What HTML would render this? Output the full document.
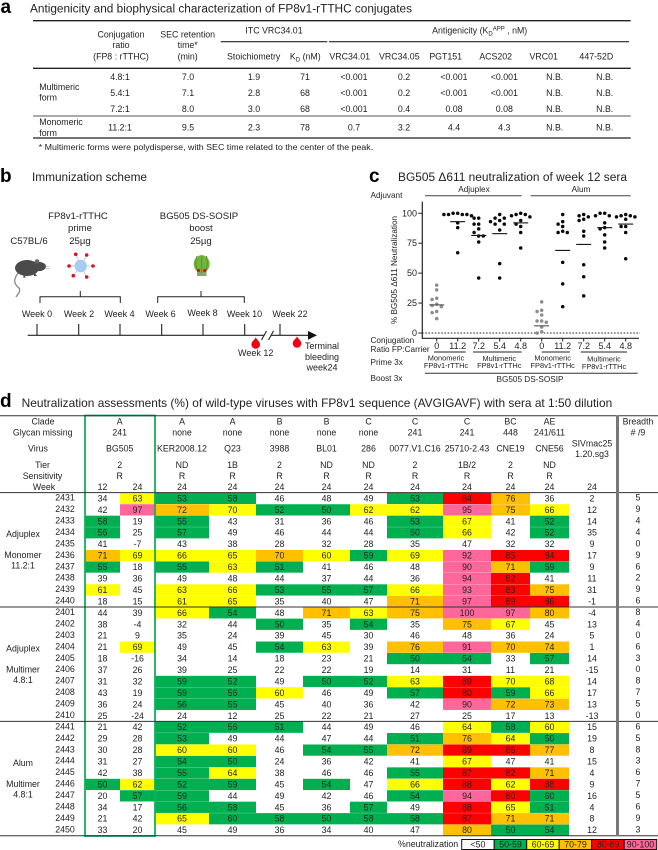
<!DOCTYPE html>
<html lang="en">
<head>
<meta charset="utf-8">
<title>FP8v1-rTTHC conjugates figure</title>
<style>
html,body{margin:0;padding:0;background:#fff;}
svg{display:block;}
text{font-family:"Liberation Sans",sans-serif;fill:#222;}
.h{font-size:8.8px;}
.m{text-anchor:middle;}
.letter{font-size:19px;font-weight:bold;fill:#000;}
.ttl{font-size:11.5px;}
.b{font-size:9.6px;text-anchor:middle;}
.wk{font-size:9px;text-anchor:middle;}
.s{font-size:7.4px;text-anchor:middle;}
.c{font-size:8.2px;}
</style>
</head>
<body>
<svg id="fig" xmlns="http://www.w3.org/2000/svg" width="658" height="850" viewBox="0 0 658 850">
<rect width="658" height="850" fill="#fff"/>

<!-- Panel a -->
<g>
<text class="letter" x="0.5" y="13">a</text>
<text class="ttl" x="30" y="12.5" textLength="382" lengthAdjust="spacingAndGlyphs">Antigenicity and biophysical characterization of FP8v1-rTTHC conjugates</text>
<line x1="33" x2="630.7" y1="20.7" y2="20.7" stroke="#222" stroke-width="1.3"/>
<line x1="220.7" x2="327.3" y1="41.7" y2="41.7" stroke="#222" stroke-width="1.2"/>
<line x1="329" x2="629" y1="41.7" y2="41.7" stroke="#222" stroke-width="1.2"/>
<line x1="33" x2="630.7" y1="68.3" y2="68.3" stroke="#222" stroke-width="1.3"/>
<line x1="33" x2="630.7" y1="116" y2="116" stroke="#777" stroke-width="1.2"/>
<line x1="33" x2="630.7" y1="138" y2="138" stroke="#222" stroke-width="1.3"/>
<g class="h">
<text class="m" x="121" y="37.3">Conjugation</text>
<text class="m" x="121" y="48">ratio</text>
<text class="m" x="121" y="59.3">(FP8 : rTTHC)</text>
<text class="m" x="187.7" y="37.3">SEC retention</text>
<text class="m" x="187.7" y="48">time*</text>
<text class="m" x="187.7" y="59.3">(min)</text>
<text class="m" x="274" y="33.3">ITC VRC34.01</text>
<text class="m" x="479.7" y="33.3">Antigenicity (K<tspan dy="2" font-size="6">D</tspan><tspan dy="-5" font-size="6">APP</tspan><tspan dy="3"> , nM)</tspan></text>
<text class="m" x="253.7" y="59.3">Stoichiometry</text>
<text class="m" x="305.3" y="59.3">K<tspan dy="2" font-size="6">D</tspan><tspan dy="-2"> (nM)</tspan></text>
<text class="m" x="349.7" y="59.3">VRC34.01</text>
<text class="m" x="399.3" y="59.3">VRC34.05</text>
<text class="m" x="445.7" y="59.3">PGT151</text>
<text class="m" x="495.7" y="59.3">ACS202</text>
<text class="m" x="543.7" y="59.3">VRC01</text>
<text class="m" x="596.3" y="59.3">447-52D</text>
<text x="39.3" y="90">Multimeric</text>
<text x="39.3" y="100.7">form</text>
<text x="39.3" y="125">Monomeric</text>
<text x="39.3" y="136">form</text>
</g>
<g class="h" text-anchor="middle">
<text x="120" y="79.8">4.8:1</text><text x="188" y="79.8">7.0</text><text x="254" y="79.8">1.9</text><text x="305" y="79.8">71</text><text x="354" y="79.8">&lt;0.001</text><text x="404" y="79.8">0.2</text><text x="454" y="79.8">&lt;0.001</text><text x="504.3" y="79.8">&lt;0.001</text><text x="554.7" y="79.8">N.B.</text><text x="604.7" y="79.8">N.B.</text>
</g>
<g class="h" text-anchor="middle">
<text x="120" y="95.8">5.4:1</text><text x="188" y="95.8">7.1</text><text x="254" y="95.8">2.8</text><text x="305" y="95.8">68</text><text x="354" y="95.8">&lt;0.001</text><text x="404" y="95.8">0.2</text><text x="454" y="95.8">&lt;0.001</text><text x="504.3" y="95.8">&lt;0.001</text><text x="554.7" y="95.8">N.B.</text><text x="604.7" y="95.8">N.B.</text>
</g>
<g class="h" text-anchor="middle">
<text x="120" y="111.8">7.2:1</text><text x="188" y="111.8">8.0</text><text x="254" y="111.8">3.0</text><text x="305" y="111.8">68</text><text x="354" y="111.8">&lt;0.001</text><text x="404" y="111.8">0.4</text><text x="454" y="111.8">0.08</text><text x="504.3" y="111.8">0.08</text><text x="554.7" y="111.8">N.B.</text><text x="604.7" y="111.8">N.B.</text>
</g>
<g class="h" text-anchor="middle">
<text x="120" y="130.7">11.2:1</text><text x="188" y="130.7">9.5</text><text x="254" y="130.7">2.3</text><text x="305" y="130.7">78</text><text x="354" y="130.7">0.7</text><text x="404" y="130.7">3.2</text><text x="454" y="130.7">4.4</text><text x="504.3" y="130.7">4.3</text><text x="554.7" y="130.7">N.B.</text><text x="604.7" y="130.7">N.B.</text>
</g>
<text x="38.7" y="150" font-size="8" textLength="334.5" lengthAdjust="spacingAndGlyphs">* Multimeric forms were polydisperse, with SEC time related to the center of the peak.</text>
</g>

<!-- Panel b -->
<g>
<text class="letter" x="0" y="182">b</text>
<text class="ttl" x="32" y="181" textLength="115" lengthAdjust="spacingAndGlyphs">Immunization scheme</text>
<text class="b" x="78" y="219">FP8v1-rTTHC</text>
<text class="b" x="80" y="231">prime</text>
<text class="b" x="80" y="244">25µg</text>
<text class="b" x="199" y="219">BG505 DS-SOSIP</text>
<text class="b" x="201" y="231">boost</text>
<text class="b" x="201" y="244">25µg</text>
<text class="b" x="29" y="244">C57BL/6</text>
<g>
<path d="M18 273 C13 280 14 284 19 288 C21 291 18 294 16 297" fill="none" stroke="#8a8a80" stroke-width="1.3"/>
<ellipse cx="27" cy="268" rx="12" ry="8" fill="#4b4b4b"/>
<ellipse cx="39" cy="266.5" rx="7" ry="4.6" fill="#4b4b4b"/>
<circle cx="37" cy="261.5" r="2.3" fill="#666"/>
<path d="M24 275 l-1 2.5 h3 z M34 272 l0 4 h3 z" fill="#444"/>
<path d="M45 267 l5 -1 M45 268 l5 1" stroke="#aaa" stroke-width=".5"/>
</g>
<g>
<g stroke="#b8c4d4" stroke-width=".8">
<line x1="80.7" y1="266" x2="75.7" y2="254.3"/><line x1="80.7" y1="266" x2="86.7" y2="255"/><line x1="80.7" y1="266" x2="69" y2="266"/><line x1="80.7" y1="266" x2="93" y2="266"/><line x1="80.7" y1="266" x2="73.3" y2="275.7"/><line x1="80.7" y1="266" x2="86.7" y2="277"/>
</g>
<circle cx="80.7" cy="266" r="6.2" fill="#a6cdf0"/>
<g fill="#d8131f">
<circle cx="75.7" cy="254.3" r="1.8"/><circle cx="86.7" cy="255" r="1.8"/><circle cx="69" cy="266" r="1.8"/><circle cx="93" cy="266" r="1.8"/><circle cx="73.3" cy="275.7" r="1.8"/><circle cx="86.7" cy="277" r="1.8"/>
</g>
</g>
<g>
<rect x="197" y="271" width="9.5" height="5" fill="#8aa27a"/>
<ellipse cx="201.7" cy="264" rx="8" ry="8.8" fill="#74b53d"/>
<g stroke="#4f8e2a" stroke-width=".9" fill="none">
<path d="M197 256 C195 262 196 268 198 272"/><path d="M201.7 255 V273"/><path d="M206.4 256 C208 262 207 268 205.4 272"/>
</g>
<circle cx="198.5" cy="270.5" r="1.6" fill="#e01010"/><circle cx="204.8" cy="270.5" r="1.6" fill="#e01010"/>
</g>
<g fill="none" stroke="#222" stroke-width="1">
<path d="M40 303 V296.7 H120.3 V303 M80.3 296.7 V291"/>
</g>
<g fill="none" stroke="#222" stroke-width="1">
<path d="M157.7 303 V296.7 H244.3 V303 M201 296.7 V291"/>
</g>
<text class="wk" x="37" y="317">Week 0</text>
<text class="wk" x="79" y="317">Week 2</text>
<text class="wk" x="119.5" y="317">Week 4</text>
<text class="wk" x="160.5" y="317">Week 6</text>
<text class="wk" x="202.5" y="316">Week 8</text>
<text class="wk" x="244.5" y="317">Week 10</text>
<text class="wk" x="290" y="317">Week 22</text>
<g stroke="#222" stroke-width="1.1">
<line x1="27.7" x2="310" y1="335.3" y2="335.3"/>
<line x1="37" x2="37" y1="324" y2="335.3"/><line x1="78.7" x2="78.7" y1="324" y2="335.3"/><line x1="120" x2="120" y1="324" y2="335.3"/><line x1="161.7" x2="161.7" y1="324" y2="335.3"/><line x1="203" x2="203" y1="324" y2="335.3"/><line x1="244.7" x2="244.7" y1="324" y2="335.3"/><line x1="280" x2="280" y1="324" y2="335.3"/>
<path d="M308 331 L317 335.3 L308 339.7 z" fill="#111" stroke="none"/>
<rect x="264" y="332" width="6.5" height="6" fill="#fff" stroke="none"/>
<line x1="261.5" x2="266.5" y1="340" y2="331"/><line x1="268.5" x2="273.5" y1="340" y2="331"/>
</g>
<path d="M255.7 337.5 C257 340 260 341.5 260 344.5 A4.3 4.3 0 0 1 251.4 344.5 C251.4 341.5 254.4 340 255.7 337.5 z" fill="#f00010"/>
<path d="M297 336.5 C298.3 339 301.3 340.5 301.3 343.5 A4.3 4.3 0 0 1 292.7 343.5 C292.7 340.5 295.7 339 297 336.5 z" fill="#f00010"/>
<text class="wk" x="255.7" y="356">Week 12</text>
<text class="wk" x="322" y="349" font-size="8.4">Terminal</text>
<text class="wk" x="322" y="360">bleeding</text>
<text class="wk" x="322" y="370.5">week24</text>
</g>

<!-- Panel c static labels -->
<g>
<text class="letter" x="369" y="182">c</text>
<text class="ttl" x="398" y="181" textLength="229" lengthAdjust="spacingAndGlyphs">BG505 Δ611 neutralization of week 12 sera</text>
<text class="c" x="370.5" y="198">Adjuvant</text>
<text class="c m" x="474" y="192">Adjuplex</text>
<text class="c m" x="581" y="192">Alum</text>
<line x1="425" x2="521.7" y1="195.7" y2="195.7" stroke="#444" stroke-width="1"/>
<line x1="530.7" x2="630.7" y1="195.7" y2="195.7" stroke="#444" stroke-width="1"/>
<text class="c m" transform="translate(397,270) rotate(-90)">% BG505 Δ611 Neutralization</text>
<text class="c" x="370.5" y="343">Conjugation</text>
<text class="c" x="370.5" y="352">Ratio FP:Carrier</text>
<text class="c" x="370.5" y="365">Prime 3x</text>
<text class="c" x="370.5" y="381">Boost 3x</text>
<line x1="434" x2="465.7" y1="352" y2="352" stroke="#222" stroke-width="1"/>
<line x1="473" x2="521.7" y1="352" y2="352" stroke="#222" stroke-width="1"/>
<line x1="541.7" x2="570" y1="352" y2="352" stroke="#222" stroke-width="1"/>
<line x1="580.7" x2="627" y1="352" y2="352" stroke="#222" stroke-width="1"/>
<text class="s" x="446" y="360.5">Monomeric</text>
<text class="s" x="446" y="368">FP8v1-rTTHc</text>
<text class="s" x="499.3" y="361">Multimeric</text>
<text class="s" x="499.3" y="368">FP8v1-rTTHc</text>
<text class="s" x="552.7" y="360.5">Monomeric</text>
<text class="s" x="552.7" y="368">FP8v1-rTTHc</text>
<text class="s" x="604" y="361.5">Multimeric</text>
<text class="s" x="604" y="369">FP8v1-rTTHc</text>
<line x1="425" x2="637.7" y1="373.3" y2="373.3" stroke="#333" stroke-width="1"/>
<text class="c m" x="530" y="382">BG505 DS-SOSIP</text>
<g id="scatter"></g>
</g>

<!-- Panel d static -->
<g>
<text class="letter" x="0" y="407">d</text>
<text x="21.7" y="407" font-size="11.8" textLength="590.5" lengthAdjust="spacingAndGlyphs">Neutralization assessments (%) of wild-type viruses with FP8v1 sequence (AVGIGAVF) with sera at 1:50 dilution</text>
<g id="heatmap"></g>
<g class="h" text-anchor="middle">
<text x="23" y="537">Adjuplex</text>
<text x="23" y="558">Monomer</text>
<text x="23" y="568.5">11.2:1</text>
<text x="23" y="651.5">Adjuplex</text>
<text x="23" y="672.5">Multimer</text>
<text x="23" y="683">4.8:1</text>
<text x="23" y="766">Alum</text>
<text x="23" y="787">Multimer</text>
<text x="23" y="797.5">4.8:1</text>
</g>
<g>
<text class="h" x="398" y="847">%neutralization</text>
<g stroke="#111" stroke-width="1">
<rect x="461.7" y="839.5" width="32.5" height="10" fill="#fff"/>
<rect x="494.2" y="839.5" width="32.5" height="10" fill="#00b050"/>
<rect x="526.7" y="839.5" width="32.5" height="10" fill="#ffff00"/>
<rect x="559.2" y="839.5" width="32.5" height="10" fill="#ffc000"/>
<rect x="591.7" y="839.5" width="32.5" height="10" fill="#ff0000"/>
<rect x="624.2" y="839.5" width="32.5" height="10" fill="#ff6699"/>
</g>
<g class="h" text-anchor="middle">
<text x="478" y="847.5">&lt;50</text>
<text x="510.5" y="847.5">50-59</text>
<text x="543" y="847.5">60-69</text>
<text x="575.5" y="847.5">70-79</text>
<text x="608" y="847.5">80-89</text>
<text x="640.5" y="847.5">90-100</text>
</g>
</g>
</g>
</svg>
<script>
// ===== Scatter data (panel c) =====
const scatterCategories = ['0', '11.2', '7.2', '5.4', '4.8', '0', '11.2', '7.2', '5.4', '4.8'];
const yTickLabels = [0, 25, 50, 75, 100];
const adjuplexMono0 = [40, 36, 29, 28, 24, 23, 22, 18, 17, 12];
const adjuplexMono112 = [100, 100, 99, 99, 99, 99, 98, 92, 88, 67];
const adjuplexMulti72 = [96, 96, 91, 91, 87, 84, 81, 81, 76, 46];
const adjuplexMulti54 = [99, 96, 96, 94, 93, 91, 91, 86, 58, 46];
const adjuplexMulti48 = [100, 99, 99, 98, 97, 94, 91, 89, 84, 71];
const alumMono0 = [26, 19, 18, 15, 10, 10, 9, 5, 1, 0];
const alumMono112 = [99, 93, 91, 89, 85, 84, 84, 59, 41, 22];
const alumMulti72 = [99, 98, 97, 95, 94, 85, 81, 57, 47, 31];
const alumMulti54 = [100, 100, 98, 98, 92, 88, 87, 82, 76, 71];
const alumMulti48 = [99, 98, 98, 97, 97, 95, 89, 89, 84, 62];
const scatterSeries = [adjuplexMono0, adjuplexMono112, adjuplexMulti72, adjuplexMulti54, adjuplexMulti48, alumMono0, alumMono112, alumMulti72, alumMulti54, alumMulti48];
const scatterMeans = [23.5, 93, 81.5, 83, 92, 6, 69, 74, 88, 91];

// ===== Heatmap data (panel d) =====
const clades = ['A', 'A', 'A', 'B', 'B', 'C', 'C', 'C', 'BC', 'AE'];
const glycans = ['241', 'none', 'none', 'none', 'none', 'none', '241', '241', '448', '241/611'];
const viruses = ['BG505', 'KER2008.12', 'Q23', '3988', 'BL01', '286', '0077.V1.C16', '25710-2.43', 'CNE19', 'CNE56'];
const tiers = ['2', 'ND', '1B', '2', 'ND', 'ND', '2', '1B/2', '2', 'ND'];
const sensitivities = ['R', 'R', 'R', 'R', 'R', 'R', 'R', 'R', 'R', 'R'];
const weeks = ['24', '24', '24', '24', '24', '24', '24', '24', '24'];
const sampleIds = [2431, 2432, 2433, 2434, 2435, 2436, 2437, 2438, 2439, 2440, 2401, 2402, 2403, 2404, 2405, 2406, 2407, 2408, 2409, 2410, 2441, 2442, 2443, 2444, 2445, 2446, 2447, 2448, 2449, 2450];
const neutralization = [
[34,63,53,58,46,48,49,53,84,76,36],
[42,97,72,69.6,52,50,62,62,95,75,66],
[58,19,55,43,31,36,46,53,67,41,52],
[56,25,57,49,46,44,44,50,66,42,52],
[41,-7,43,38,28,32,28,35,47,32,32],
[71,69,66,65,70,60,59,69,92,85,84],
[55,18,55,63,51,41,46,48,90,71,59],
[39,36,49,48,44,37,44,36,94,82,41],
[61,45,63,66,53,55,57,66,93,83,75],
[18,15,61,65,35,40,47,71,97,89,86],
[44,39,66,54,48,71,63,75,100,97,79.7],
[38,-4,32,44,50,35,54,35,75,67,45],
[21,9,35,24,39,45,30,46,48,36,24],
[21,69,49,45,54,63,39,76,91,70,74],
[18,-16,34,14,18,23,21,50,54,33,57],
[37,26,39,25,22,22,19,14,31,11,21],
[31,32,59,52,49,50,52,63,89,69.6,68],
[43,19,59,56,60,46,49,57,80,59,66],
[36,24,56,55,45,40,36,42,90,72,73],
[25,-24,24,12,25,22,21,27,25,17,13],
[21,42,52,56,51,44,49,46,64,58,60],
[29,28,53,49,44,47,44,51,76,64,50],
[30,28,60,60,46,54,55,72,89,86,77],
[31,27,54,50,24,36,42,41,67,47,41],
[42,38,55,64,38,46,46,55,87,82,71],
[50,62,52,59,45,54,47,66,88,62,88],
[20,57,59,44,49,42,46,54,94,80,59.6],
[34,17,56,58,45,36,57,49,88,65,51],
[21,42,65,59.6,58,50,58,58,87,71,71],
[33,20,45,49,36,34,40,47,79.6,50,54]
];
const sivValues = [2,12,14,35,9,17,9,11,31,-1,-4,13,5,1,14,-15,14,17,13,-13,15,19,8,15,4,9,16,4,8,12];
const breadthValues = [5,9,4,4,0,9,6,2,9,6,8,4,0,6,3,0,8,7,5,0,6,5,8,3,6,7,5,6,9,3];

// ===== Layout =====
const NS = 'http://www.w3.org/2000/svg';
const columnEdges = [85, 120, 155, 209, 256, 303, 350, 387, 443, 491, 530, 569];
const ROW_TOP = 492.6, ROW_H = 11.44;
const SIV_X = 592, BREADTH_X = 638;
function make(parent, tag, attrs) {
  const el = document.createElementNS(NS, tag);
  for (const k in attrs) el.setAttribute(k, attrs[k]);
  parent.appendChild(el);
  return el;
}
function label(parent, x, y, s, cls) {
  const el = make(parent, 'text', {x: x, y: y, class: cls});
  el.textContent = s;
  return el;
}

// ----- Scatter axes -----
const scatter = document.getElementById('scatter');
function yScale(v) { return 333 - v * 1.197; }
function xScale(i) { return 436.7 + i * 21; }
function swarm(values) {
  const placed = [];
  const sorted = values.slice().sort((a, b) => b - a);
  for (const v of sorted) {
    const y = yScale(v);
    const candidates = [0, -4.6, 4.6, -9.2, 9.2, -13.8, 13.8];
    let off = 0;
    for (const c of candidates) {
      if (placed.every(p => Math.hypot(p.off - c, p.y - y) >= 4.2)) { off = c; break; }
    }
    placed.push({off: off, y: y, v: v});
  }
  return placed;
}
const yAxis = make(scatter, 'line', {x1: 422.3, x2: 422.3, y1: 201.7, y2: 338.8, stroke: '#222', 'stroke-width': 1.2});


const xAxis = make(scatter, 'line', {x1: 421.7, x2: 639, y1: 338.3, y2: 338.3, stroke: '#222', 'stroke-width': 1.2});


const zeroLine = make(scatter, 'line', {x1: 422, x2: 640, y1: yScale(0), y2: yScale(0), stroke: '#222', 'stroke-width': 1, 'stroke-dasharray': '1.6 1.6'});


yTickLabels.forEach(v => {
  const tick = make(scatter, 'line', {x1: 418.3, x2: 422.3, y1: yScale(v), y2: yScale(v), stroke: '#222', 'stroke-width': 1});
  
  
  const lab = label(scatter, 417, yScale(v) + 3, String(v), 'wk');
  lab.setAttribute('text-anchor', 'end');
  lab.style.textAnchor = 'end';
  
  
});
scatterCategories.forEach((c, i) => {
  const tick = make(scatter, 'line', {x1: xScale(i), x2: xScale(i), y1: 338.3, y2: 341.5, stroke: '#222', 'stroke-width': 1});
  
  
  const lab = label(scatter, xScale(i), 349, c, 'wk');
  
  
  const grey = Number(c) === 0;
  swarm(scatterSeries[i]).forEach(p => {
    const dot = make(scatter, 'circle', {cx: xScale(i) + p.off, cy: p.y, r: 1.75, fill: grey ? '#8c8c8c' : '#0a0a0a'});
    
    
  });
  const mean = make(scatter, 'line', {x1: xScale(i) - 7.5, x2: xScale(i) + 7.5, y1: yScale(scatterMeans[i]), y2: yScale(scatterMeans[i]), stroke: grey ? '#555' : '#111', 'stroke-width': 1.1});
  
  
});

// ----- Heatmap -----
const heatmap = document.getElementById('heatmap');
function bandColor(v) {
  const f = Math.floor(v);
  if (f >= 90) return '#ff6699';
  if (f >= 80) return '#ff0000';
  if (f >= 70) return '#ffc000';
  if (f >= 60) return '#ffff00';
  if (f >= 50) return '#00b050';
  return null;
}
function rowTop(r) { return ROW_TOP + r * ROW_H; }
function colCenter(c) { return (columnEdges[c] + columnEdges[c + 1]) / 2; }
function headerCenter(h) { return h === 0 ? 119.7 : colCenter(h + 1); }

neutralization.forEach((row, r) => {
  row.forEach((v, c) => {
    const col = bandColor(v);
    if (col) {
      const cell = make(heatmap, 'rect', {x: columnEdges[c], y: rowTop(r) + 0.2, width: columnEdges[c + 1] - columnEdges[c], height: ROW_H - 0.2, fill: col});
      
      
    }
  });
});
const box = make(heatmap, 'rect', {x: 85, y: 415.5, width: 70, height: 420.5, fill: 'none', stroke: '#14ad5f', 'stroke-width': 1.8});


neutralization.forEach((row, r) => {
  const base = rowTop(r) + ROW_H / 2 + 3.1;
  const idLab = label(heatmap, 65, base - 0.8, String(sampleIds[r]), 'h m');
  
  
  row.forEach((v, c) => {
    const val = label(heatmap, colCenter(c), base, String(Math.round(v)), 'h m');
    
    
  });
  const siv = label(heatmap, SIV_X, base, String(sivValues[r]), 'h m');
  
  
  const br = label(heatmap, BREADTH_X, base - 0.8, String(breadthValues[r]), 'h m');
  
  
});
[[0, '#333', 1], [10, '#333', 1], [20, '#333', 1], [30, '#333', 1]].forEach(d => {
  const rule = make(heatmap, 'line', {x1: 0, x2: 658, y1: rowTop(d[0]), y2: rowTop(d[0]), stroke: d[1], 'stroke-width': d[2]});
  
  
});
const topRule = make(heatmap, 'line', {x1: 0, x2: 658, y1: 415.7, y2: 415.7, stroke: '#333', 'stroke-width': 1});


const breadthBar = make(heatmap, 'rect', {x: 616, y: 415.5, width: 3, height: 420.5, fill: '#777'});



const headerRows = [[clades, 424.5, 'Clade', 43], [glycans, 435.7, 'Glycan missing', 42.7], [viruses, 451.7, 'Virus', 38], [tiers, 468, 'Tier', 42.5], [sensitivities, 479, 'Sensitivity', 42.5]];
headerRows.forEach(h => {
  const name = label(heatmap, h[3], h[1], h[2], 'h m');
  
  
  h[0].forEach((s, i) => {
    const cellText = label(heatmap, headerCenter(i), h[1], s, 'h m');
    
    
  });
});
const weekName = label(heatmap, 44, 490, 'Week', 'h m');


const week12 = label(heatmap, 102.5, 490, '12', 'h m');


const week24 = label(heatmap, 137.5, 490, '24', 'h m');


weeks.forEach((s, i) => {
  const w = label(heatmap, colCenter(i + 2), 490, s, 'h m');
  
  
});
const sivWeek = label(heatmap, SIV_X, 490, '24', 'h m');


const siv1 = label(heatmap, SIV_X, 446.7, 'SIVmac25', 'h m');


const siv2 = label(heatmap, SIV_X, 457, '1.20.sg3', 'h m');


const breadth1 = label(heatmap, BREADTH_X, 424.5, 'Breadth', 'h m');


const breadth2 = label(heatmap, BREADTH_X, 435.5, '# /9', 'h m');


</script>
</body>
</html>
